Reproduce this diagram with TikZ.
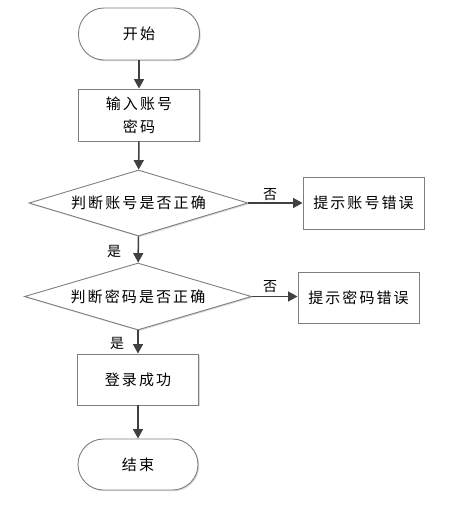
\documentclass[tikz,border=0pt]{standalone}
\usepackage{fontspec}
\newfontfamily\cjk[LetterSpace=14]{Noto Sans CJK SC}
\usetikzlibrary{shapes.geometric,arrows.meta,shadows}
\definecolor{linec}{HTML}{404040}
\definecolor{borderc}{HTML}{7F7F7F}
\tikzset{
  base/.style={draw=borderc, line width=0.9pt, fill=white, align=center,
    font=\cjk\fontsize{15pt}{23pt}\selectfont, inner sep=0pt,
    drop shadow={shadow xshift=1.2pt, shadow yshift=-1.2pt, opacity=0.25, fill=black!60}},
  terminal/.style={base, rectangle, rounded corners=25.5pt, minimum width=121pt, minimum height=52pt},
  procbox/.style={base, rectangle, minimum width=121pt, minimum height=52pt},
  decision/.style={base, diamond, aspect=3.3},
  conn/.style={draw=linec, line width=1.5pt, -{Triangle[length=9.5pt,width=10pt]}},
  lbl/.style={font=\cjk\fontsize{14pt}{16pt}\selectfont, inner sep=0pt}
}
\begin{document}
\begin{tikzpicture}[x=1pt,y=-1pt]
\useasboundingbox (0,0) rectangle (457,506);
\node[terminal] (start) at (139,34) {开始};
\node[procbox] (in) at (139,115) {输入账号\\密码};
\node[decision, minimum width=219pt, minimum height=66pt] (d1) at (138.5,203) {判断账号是否正确};
\node[procbox] (e1) at (363.5,203) {提示账号错误};
\node[decision, minimum width=227pt, minimum height=67pt] (d2) at (138,296.5) {判断密码是否正确};
\node[procbox, minimum height=51pt] (e2) at (358.5,297.5) {提示密码错误};
\node[procbox, minimum height=51pt] (ok) at (138,379.5) {登录成功};
\node[terminal, minimum height=51pt, minimum width=120pt] (end) at (138,464.5) {结束};
\draw[conn] (start) -- (in);
\draw[conn] (in) -- (d1);
\draw[conn] (d1) -- (e1);
\draw[conn] (d1) -- (d2);
\draw[conn] (d2.east) -- (e2.west |- d2.east);
\draw[conn] (d2) -- (ok);
\draw[conn] (ok) -- (end);
\node[lbl] (n1) at (270,195) {否};
\node[lbl] (n2) at (270,287) {否};
\node[lbl] (y1) at (114,251) {是};
\node[lbl] (y2) at (117,343) {是};
\end{tikzpicture}
\end{document}
